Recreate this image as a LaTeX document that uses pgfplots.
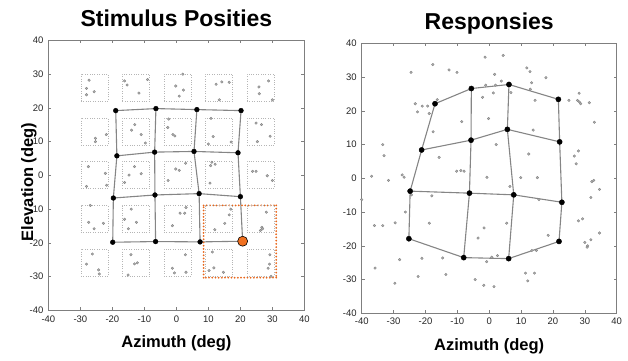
\documentclass[border=0pt]{standalone}
\usepackage{pgfplots}
\pgfplotsset{compat=1.18}
\usepackage{fontspec}
\setmainfont{Liberation Sans}
\definecolor{axgray}{HTML}{7F7F7F}
\definecolor{ticktxt}{HTML}{262626}
\definecolor{meshgray}{HTML}{858585}
\definecolor{dotgray}{HTML}{808080}
\definecolor{dotfill}{HTML}{B0B0B0}
\definecolor{orng}{HTML}{F07020}
\definecolor{orngline}{HTML}{E8661A}
\definecolor{sqgray}{HTML}{B5B5B5}

\pgfplotsset{
 panel/.style={
   scale only axis, height=270pt,
   xmin=-40,xmax=40,ymin=-40,ymax=40,
   xtick={-40,-30,...,40}, ytick={-40,-30,...,40},
   tick align=inside, major tick length=3pt,
   axis line style={axgray, line width=0.6pt},
   every tick/.style={axgray, line width=0.5pt},
   tick label style={font=\fontsize{9.5}{11}\selectfont, text=ticktxt},
   xticklabel style={yshift=-1.5pt},
   yticklabel style={xshift=-1.5pt},
   /pgf/number format/assume math mode=true,
   title style={font=\fontsize{23}{27}\selectfont\bfseries, at={(axis description cs:0.5,1)}, anchor=base, yshift=7.7pt},
   xlabel style={font=\fontsize{16.5}{20}\selectfont\bfseries, at={(axis description cs:0.5,0)}, anchor=base, yshift=-37pt},
   clip=false,
 },
 sdot/.style={only marks, mark=*, mark size=1.3pt, mark options={fill=dotfill, draw=dotgray, line width=0.35pt}},
 meshline/.style={meshgray, line width=1.1pt, mark=none},
 meshpt/.style={only marks, mark=*, mark size=2.6pt, mark options={fill=black, draw=black}},
 orect/.style={draw=orngline, line width=2pt, dash pattern=on 0pt off 3.2pt, line cap=round, mark=none},
}

\begin{document}
\begin{tikzpicture}[x=1pt,y=1pt]
\useasboundingbox (0,0) rectangle (628,360);

% ---------------- Left panel ----------------
\begin{axis}[panel, at={(48.4pt,49.6pt)}, anchor=south west, width=256pt,
  title={Stimulus Posities}, xlabel={Azimuth (deg)}, ylabel={Elevation (deg)},
  ylabel style={font=\fontsize{16.5}{20}\selectfont\bfseries, at={(axis description cs:-0.06,0.476)}, anchor=base}]

% dotted squares (centres)
\addplot[only marks, mark=square, mark size=13.6pt,
  mark options={draw=sqgray, dash pattern=on 0.8pt off 1.6pt, line width=0.6pt, fill=none}]
  coordinates {
  (-25.6,26.0)(-12.6,26.0)(0.35,26.0)(13.3,26.0)(26.3,26.0)
  (-25.6,12.9)(-12.6,12.9)(0.35,12.9)(13.3,12.9)(26.3,12.9)
  (-25.6,0.1)(-12.6,0.1)(0.35,0.1)(13.3,0.1)(26.3,0.1)
  (-25.6,-12.95)(-12.6,-12.95)(0.35,-12.95)(13.3,-12.95)(26.3,-12.95)
  (-25.6,-25.9)(-12.6,-25.9)(0.35,-25.9)(13.3,-25.9)(26.3,-25.9)
  };

% small stimulus dots
\addplot[sdot] coordinates {
 (-27.3,28.2)(-28.1,25.8)(-25.7,24.8)(-28.1,23.9)
 (-16.2,28.0)(-15.4,26.8)(-9.0,28.4)(-11.7,24.4)
 (2.0,30.0)(-0.2,26.5)(2.2,25.3)(0.9,23.5)
 (12.4,27.0)(14.2,27.7)(16.5,27.6)(13.4,22.4)
 (25.8,26.2)(28.8,28.0)(25.9,24.2)(30.0,22.4)
 (-25.3,11.0)(-25.3,10.0)(-21.9,12.1)
 (-13.0,15.05)(-14.0,13.4)(-11.0,12.1)(-9.7,9.6)
 (-2.4,16.7)(-2.7,14.2)(-1.1,12.1)(-0.5,11.7)
 (10.8,16.9)(11.5,11.5)(10.0,9.3)(17.1,9.9)
 (24.9,15.5)(26.6,15.05)(29.3,11.6)(25.3,10.0)
 (-27.5,2.6)(-22.2,0.6)(-21.8,-2.9)(-28.1,-3.25)
 (-13.1,2.6)(-14.8,0.1)(-11.0,0.5)(-16.2,-2.1)
 (2.9,3.6)(-0.2,1.9)(0.9,1.5)(-2.6,-1.5)
 (11.1,3.9)(12.1,3.3)(10.7,2.9)(10.5,-2.3)
 (23.8,1.2)(24.9,1.2)(28.4,-0.1)(30.0,-1.5)
 (-26.9,-8.9)(-27.4,-13.9)(-25.7,-15.8)(-22.8,-14.2)
 (-14.1,-10.0)(-16.2,-13.0)(-12.5,-13.9)(-15.0,-15.8)
 (3.0,-9.5)(1.15,-11.2)(2.6,-11.2)(-1.25,-14.9)
 (17.0,-10.0)(16.5,-11.7)(15.1,-14.2)(12.0,-16.1)
 (28.1,-10.9)(26.7,-15.4)(26.25,-16.3)(26.9,-15.8)
 (-26.25,-23.3)(-28.1,-26.3)(-24.3,-28.0)(-24.1,-29.2)
 (-14.2,-23.5)(-13.1,-26.2)(-12.2,-25.9)(-15.1,-29.5)
 (2.8,-23.5)(-1.25,-27.5)(-0.6,-28.9)(3.0,-28.7)
 (11.25,-22.7)(11.7,-27.4)(10.2,-28.2)(14.7,-28.7)
 (29.2,-23.5)(29.1,-26.3)(28.65,-27.5)(29.6,-29.9)
};

% mesh rows
\addplot[meshline] coordinates {(-18.96,19.2)(-6.4,19.8)(6.4,19.5)(20.2,19.2)};
\addplot[meshline] coordinates {(-18.6,5.8)(-6.8,6.9)(5.5,7.1)(19.25,6.7)};
\addplot[meshline] coordinates {(-19.7,-6.7)(-6.7,-5.8)(7.1,-5.4)(20.0,-6.3)};
\addplot[meshline] coordinates {(-19.9,-19.8)(-6.5,-19.6)(7.4,-19.7)(20.7,-19.5)};
% mesh columns
\addplot[meshline] coordinates {(-18.96,19.2)(-18.6,5.8)(-19.7,-6.7)(-19.9,-19.8)};
\addplot[meshline] coordinates {(-6.4,19.8)(-6.8,6.9)(-6.7,-5.8)(-6.5,-19.6)};
\addplot[meshline] coordinates {(6.4,19.5)(5.5,7.1)(7.1,-5.4)(7.4,-19.7)};
\addplot[meshline] coordinates {(20.2,19.2)(19.25,6.7)(20.0,-6.3)(20.7,-19.5)};

% orange dotted rectangle (four sides)
\addplot[orect] coordinates {(8.5,-8.9)(31.2,-8.9)};
\addplot[orect] coordinates {(31.2,-8.9)(31.2,-30.3)};
\addplot[orect] coordinates {(31.2,-30.3)(8.5,-30.3)};
\addplot[orect] coordinates {(8.5,-30.3)(8.5,-8.9)};

\addplot[meshpt, mark size=2.4pt] coordinates {
 (-18.96,19.2)(-6.4,19.8)(6.4,19.5)(20.2,19.2)
 (-18.6,5.8)(-6.8,6.9)(5.5,7.1)(19.25,6.7)
 (-19.7,-6.7)(-6.7,-5.8)(7.1,-5.4)(20.0,-6.3)
 (-19.9,-19.8)(-6.5,-19.6)(7.4,-19.7)
};
\addplot[only marks, mark=*, mark size=5pt, mark options={fill=orng, draw=black, line width=0.6pt}]
 coordinates {(20.7,-19.5)};
\end{axis}

% ---------------- Right panel ----------------
\begin{axis}[panel, at={(361.7pt,46.7pt)}, anchor=south west, width=255pt,
  title={Responsies}, xlabel={Azimuth (deg)}]

\addplot[sdot] coordinates {
 (4.4,36.4)(-1.3,35.9)(-17.7,33.7)(11.8,32.7)(-12.6,32.1)(12.8,31.6)
 (-24.5,31.4)(-10.1,31.4)(1.7,30.8)(17.8,29.8)(3.8,28.8)(13.3,28.3)
 (-1.1,27.6)(2.0,27.6)(12.9,26.4)(6.8,25.4)(1.3,25.3)(-2.1,24.0)
 (28.2,25.2)(-16.3,23.3)(14.4,23.1)(25.0,23.1)(27.7,23.1)(28.3,22.6)
 (28.7,22.1)(31.4,22.4)(-23.2,22.1)(-21.0,21.4)(-19.3,21.4)(-22.5,19.7)
 (-18.8,19.2)(-0.2,17.7)(-8.6,16.8)(33.0,16.6)(-17.6,13.8)(13.8,14.3)
 (2.2,10.0)(-33.4,10.0)(28.0,8.1)(-33.0,6.7)(12.4,7.2)(26.7,6.6)
 (-15.7,6.2)(27.3,4.3)(-36.9,0.6)(-27.3,1.0)(-26.7,0.3)(-31.6,-0.6)
 (-10.2,2.1)(-8.9,2.3)(-7.9,2.1)(-0.7,0.3)(9.9,0.2)(15.1,0.2)
 (32.2,-1.0)(32.8,-0.6)(6.5,-2.4)(-24.4,-4.9)(-18.0,-5.2)(34.6,-3.3)
 (15.6,-6.3)(-40.0,-6.3)(-26.3,-10.0)(31.9,-5.7)(-29.5,-13.2)(-18.8,-13.3)
 (-36.0,-14.0)(-33.4,-14.0)(28.0,-12.6)(29.3,-12.0)(5.5,-13.3)(-1.6,-14.7)
 (-3.5,-17.7)(18.5,-16.9)(34.6,-16.2)(31.9,-18.2)(30.0,-19.0)(30.9,-20.0)
 (30.7,-20.4)(13.4,-21.4)(14.8,-21.4)(2.6,-22.9)(0.8,-23.4)(-14.6,-23.6)
 (-21.1,-23.7)(-28.1,-24.1)(-0.8,-24.7)(-35.8,-26.6)(-13.6,-28.5)(11.4,-28.1)
 (14.2,-28.1)(-22.3,-29.1)(-4.4,-30.0)(12.1,-30.4)(-29.6,-31.1)(-1.7,-31.7)
 (1.5,-32.1)
};

% mesh rows
\addplot[meshline] coordinates {(-17.0,22.1)(-5.6,26.6)(6.2,27.8)(21.7,23.4)};
\addplot[meshline] coordinates {(-21.2,8.4)(-5.7,11.3)(5.7,14.5)(22.1,10.8)};
\addplot[meshline] coordinates {(-24.8,-3.8)(-6.2,-4.4)(7.7,-4.9)(22.8,-7.1)};
\addplot[meshline] coordinates {(-25.2,-17.9)(-8.0,-23.5)(6.1,-23.8)(21.9,-18.7)};
% mesh columns
\addplot[meshline] coordinates {(-17.0,22.1)(-21.2,8.4)(-24.8,-3.8)(-25.2,-17.9)};
\addplot[meshline] coordinates {(-5.6,26.6)(-5.7,11.3)(-6.2,-4.4)(-8.0,-23.5)};
\addplot[meshline] coordinates {(6.2,27.8)(5.7,14.5)(7.7,-4.9)(6.1,-23.8)};
\addplot[meshline] coordinates {(21.7,23.4)(22.1,10.8)(22.8,-7.1)(21.9,-18.7)};

\addplot[meshpt] coordinates {
 (-17.0,22.1)(-5.6,26.6)(6.2,27.8)(21.7,23.4)
 (-21.2,8.4)(-5.7,11.3)(5.7,14.5)(22.1,10.8)
 (-24.8,-3.8)(-6.2,-4.4)(7.7,-4.9)(22.8,-7.1)
 (-25.2,-17.9)(-8.0,-23.5)(6.1,-23.8)(21.9,-18.7)
};
\end{axis}
\end{tikzpicture}
\end{document}
